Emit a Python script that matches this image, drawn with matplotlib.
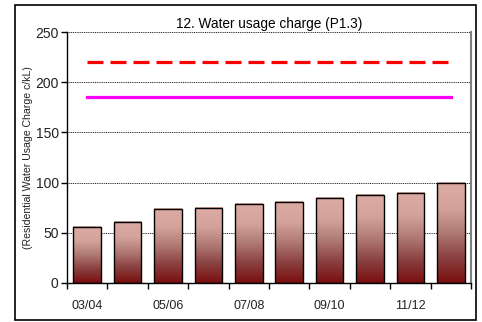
import numpy as np
import matplotlib
matplotlib.use('Agg')
import matplotlib.pyplot as plt
from matplotlib.colors import LinearSegmentedColormap
from matplotlib.patches import Rectangle

plt.rcParams['font.family'] = ['Liberation Sans', 'DejaVu Sans']

years = ['03/04', '04/05', '05/06', '06/07', '07/08', '08/09', '09/10', '10/11', '11/12', '12/13']
charge = [56, 61, 74, 75, 79, 81, 85, 88, 90, 100]
upper = 220   # red dashed
lower = 185   # magenta

fig = plt.figure(figsize=(4.82, 3.22), dpi=100)
# outer frame
fig.patches.append(Rectangle((15/482, 2/322), 461/482, 315/322, transform=fig.transFigure,
                             fill=False, edgecolor='black', linewidth=1.2))
ax = fig.add_axes([67/482, 1-283/322, 404/482, 251/322])

cmap = LinearSegmentedColormap.from_list('bar', ['#7a0e0e', '#8a4040', '#b07a74', '#d4a49c', '#dcaba3'])
grad = np.linspace(0, 1, 256).reshape(-1, 1)
x = np.arange(len(years))
w = 0.68
for xi, v in zip(x, charge):
    ax.imshow(grad, cmap=cmap, origin='lower', aspect='auto',
              extent=(xi - w/2, xi + w/2, 0, v), zorder=2)
    ax.add_patch(Rectangle((xi - w/2, 0), w, v, fill=False, edgecolor='black', linewidth=1.0, zorder=3))

ax.plot([x[0], x[-1]], [upper, upper], color='#ff0000', linewidth=2.3, dashes=(5, 2.2), zorder=4)
ax.plot([x[0], x[-1]], [lower, lower], color='#ff00ff', linewidth=2.3, zorder=4)

ax.set_xlim(-0.5, len(years) - 0.5)
ax.set_ylim(0, 250)
ax.set_yticks([0, 50, 100, 150, 200, 250])
for yv in [50, 100, 150, 200, 250]:
    ax.axhline(yv, color='black', linewidth=0.6, linestyle=(0, (1.2, 1.0)), zorder=1)

ax.set_xticks(x[::2])
ax.set_xticklabels(years[::2])
ax.set_xticks(np.arange(-0.5, len(years)), minor=True)
ax.tick_params(axis='x', which='major', length=0, pad=12, labelsize=9, labelcolor='#222222')
ax.tick_params(axis='x', which='minor', length=4, direction='out', width=1)
ax.tick_params(axis='y', length=4, width=1, labelsize=10, pad=2, labelcolor='#222222')

ax.spines['top'].set_visible(False)
ax.spines['right'].set_color('#808080')
ax.spines['right'].set_linewidth(1.5)
ax.spines['left'].set_linewidth(1.0)
ax.spines['bottom'].set_linewidth(1.0)

ax.set_title('12. Water usage charge (P1.3)', fontsize=9.8, pad=3)
ax.set_ylabel('(Residential Water Usage Charge c/kL)', fontsize=7.6, labelpad=2, color='#222222')

fig.savefig('out.png', dpi=100)
